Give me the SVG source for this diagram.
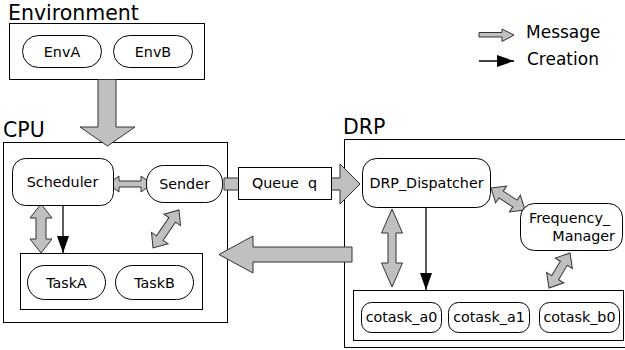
<svg xmlns="http://www.w3.org/2000/svg" width="625" height="350" viewBox="0 0 625 350">
<defs>
<style>
text{font-family:"DejaVu Sans","Liberation Sans",sans-serif;fill:#000}
.t{font-size:14.3px;text-anchor:middle}
.big{font-size:20.5px}
.leg{font-size:17px}
.box{fill:#fff;stroke:#000;stroke-width:1}
.node{fill:#fff;stroke:#000;stroke-width:1}
.msg{fill:#c0c0c0;stroke:#333;stroke-width:1;stroke-linejoin:miter}
.cre{fill:none;stroke:#000;stroke-width:1.3}
</style>
<marker id="ah" viewBox="0 0 17 12" refX="17" refY="6" markerWidth="17" markerHeight="12" markerUnits="userSpaceOnUse" orient="auto">
<path d="M0,0 L17,6 L0,12 Z" fill="#000"/>
</marker>
</defs>

<g id="environment">
<text class="big" x="8" y="20">Environment</text>
<rect class="box" x="9.5" y="23.5" width="195" height="56"/>
</g>
<g id="envA"><rect class="node" x="22.5" y="35.5" width="79" height="32" rx="16"/><text class="t" x="62" y="57">EnvA</text></g>
<g id="envB"><rect class="node" x="113.5" y="35.5" width="79" height="32" rx="16"/><text class="t" x="153" y="57">EnvB</text></g>

<g id="cpu">
<text class="big" x="3" y="137">CPU</text>
<rect class="box" x="3.5" y="142.5" width="224" height="180"/>
</g>
<g id="taskbox"><rect class="box" x="20.5" y="253.5" width="182" height="56"/></g>

<g id="drp">
<text class="big" x="343" y="134">DRP</text>
<rect class="box" x="344.5" y="139.5" width="290" height="208"/>
</g>
<g id="cotaskbox"><rect class="box" x="353.5" y="290.5" width="270" height="50"/></g>

<g id="connectors">
<polygon class="msg" points="98,79.5 116,79.5 116,127 135,127 107.5,146 80,127 98,127"/>
<polygon class="msg" points="224,178 340,178 340,164 360,184 340,204 340,190 224,190"/>
<polygon class="msg" points="352,247 253,247 253,236 219,254.5 253,273 253,262 352,262"/>
<polygon class="msg" transform="translate(108,184)" points="0,0 11,-8 11,-3 33,-3 33,-8 44,0 33,8 33,3 11,3 11,8"/>
<polygon class="msg" transform="translate(41,204) rotate(90)" points="0,0 14,-11 14,-5 35,-5 35,-11 49,0 35,11 35,5 14,5 14,11"/>
<polygon class="msg" transform="translate(179,210) rotate(124.4)" points="0,0 12,-10 12,-4 34,-4 34,-10 46,0 34,10 34,4 12,4 12,10"/>
<polygon class="msg" transform="translate(392,209) rotate(90)" points="0,0 24,-10.5 24,-4 54,-4 54,-10.5 78,0 54,10.5 54,4 24,4 24,10.5"/>
<polygon class="msg" transform="translate(491,188) rotate(32.9)" points="0,0 12,-10 12,-4 28.5,-4 28.5,-10 40.5,0 28.5,10 28.5,4 12,4 12,10"/>
<polygon class="msg" transform="translate(570,253) rotate(121)" points="0,0 12,-10 12,-4 28.8,-4 28.8,-10 40.8,0 28.8,10 28.8,4 12,4 12,10"/>
<line class="cre" x1="63" y1="205" x2="63" y2="253" marker-end="url(#ah)"/>
<line class="cre" x1="426" y1="207" x2="426" y2="290" marker-end="url(#ah)"/>
</g>

<g id="queue"><rect class="node" x="238.5" y="167.5" width="93" height="32"/><text class="t" x="284.5" y="188" xml:space="preserve">Queue  q</text></g>
<g id="scheduler"><rect class="node" x="12.5" y="158.5" width="101" height="47" rx="13"/><text class="t" x="62.5" y="187">Scheduler</text></g>
<g id="sender"><rect class="node" x="146.5" y="165.5" width="76" height="37" rx="17"/><text class="t" x="184.5" y="189">Sender</text></g>
<g id="taskA"><rect class="node" x="27.5" y="265.5" width="78" height="34" rx="17"/><text class="t" x="66.5" y="288">TaskA</text></g>
<g id="taskB"><rect class="node" x="115.5" y="265.5" width="78" height="34" rx="17"/><text class="t" x="154.5" y="288">TaskB</text></g>
<g id="dispatcher"><rect class="node" x="362.5" y="158.5" width="128" height="49" rx="14"/><text class="t" x="426.5" y="188">DRP_Dispatcher</text></g>
<g id="frequency"><rect class="node" x="520.5" y="203.5" width="102" height="47" rx="14"/><text style="font-size:14.3px" x="529" y="223">Frequency_</text><text style="font-size:14.3px;text-anchor:end" x="615" y="241">Manager</text></g>
<g id="cotask_a0"><rect class="node" x="361.5" y="302.5" width="80" height="30" rx="10"/><text class="t" x="401.5" y="322">cotask_a0</text></g>
<g id="cotask_a1"><rect class="node" x="448.5" y="302.5" width="81" height="30" rx="10"/><text class="t" x="489" y="322">cotask_a1</text></g>
<g id="cotask_b0"><rect class="node" x="539.5" y="302.5" width="80" height="30" rx="10"/><text class="t" x="579.5" y="322">cotask_b0</text></g>

<g id="legend">
<polygon class="msg" points="479,32.5 502,32.5 502,29 514,35 502,41.5 502,37 479,37"/>
<text class="leg" x="526" y="38">Message</text>
<line class="cre" x1="479" y1="61" x2="514" y2="61" marker-end="url(#ah)"/>
<text class="leg" x="527" y="65">Creation</text>
</g>
</svg>
